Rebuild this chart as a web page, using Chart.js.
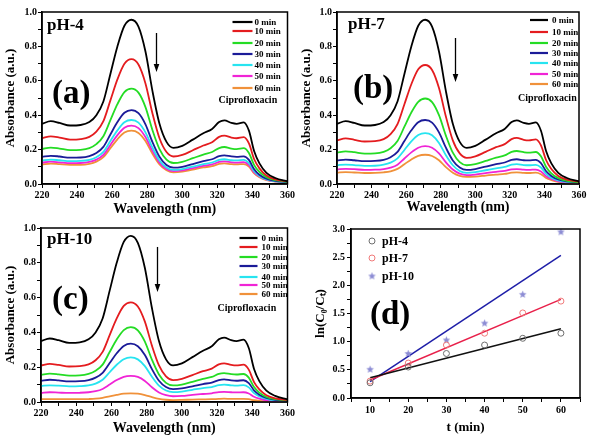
<!DOCTYPE html>
<html><head><meta charset="utf-8">
<script src="https://cdn.jsdelivr.net/npm/chart.js@4.4.1/dist/chart.umd.min.js"></script>
<style>
html,body{margin:0;padding:0;background:#fff;width:591px;height:439px;overflow:hidden;position:relative}
canvas{position:absolute}
</style></head><body>
<canvas id="ca" style="left:0px;top:0px" width="296" height="218"></canvas>
<canvas id="cb" style="left:296px;top:0px" width="295" height="218"></canvas>
<canvas id="cc" style="left:0px;top:218px" width="296" height="221"></canvas>
<canvas id="cd" style="left:296px;top:218px" width="295" height="221"></canvas>
<script>
// ---------- DATA ----------
const WAVELENGTHS = [220,225,230,236,242,247,251,255,259,263,267,271,275,279,283,287,291,295,300,306,312,317,321,324,328,331,335,338,341,344,348,353,360];
const TIME_LABELS = ['0 min','10 min','20 min','30 min','40 min','50 min','60 min'];

const SPECTRUM_0MIN = [0.350,0.365,0.355,0.340,0.343,0.360,0.400,0.480,0.640,0.800,0.920,0.955,0.915,0.770,0.540,0.350,0.245,0.210,0.222,0.258,0.295,0.320,0.360,0.370,0.355,0.350,0.358,0.310,0.190,0.120,0.065,0.035,0.015];

const PH4_10MIN = [0.266,0.277,0.270,0.258,0.261,0.274,0.304,0.365,0.486,0.608,0.699,0.726,0.695,0.585,0.410,0.266,0.186,0.160,0.169,0.196,0.224,0.243,0.274,0.281,0.270,0.266,0.272,0.236,0.144,0.091,0.049,0.027,0.014];
const PH4_20MIN = [0.203,0.212,0.206,0.197,0.199,0.209,0.232,0.278,0.371,0.464,0.534,0.554,0.531,0.447,0.313,0.203,0.142,0.122,0.129,0.150,0.171,0.186,0.209,0.215,0.206,0.203,0.208,0.180,0.110,0.070,0.040,0.022,0.013];
const PH4_30MIN = [0.158,0.164,0.160,0.153,0.154,0.162,0.180,0.216,0.288,0.360,0.414,0.430,0.412,0.347,0.243,0.158,0.110,0.095,0.100,0.116,0.133,0.144,0.162,0.167,0.160,0.158,0.161,0.140,0.086,0.054,0.031,0.018,0.012];
const PH4_40MIN = [0.137,0.142,0.138,0.133,0.134,0.140,0.156,0.187,0.250,0.312,0.359,0.372,0.357,0.300,0.211,0.137,0.096,0.082,0.087,0.101,0.115,0.125,0.140,0.144,0.138,0.137,0.140,0.121,0.074,0.047,0.027,0.016,0.011];
const PH4_50MIN = [0.124,0.130,0.126,0.121,0.122,0.128,0.142,0.170,0.227,0.284,0.327,0.339,0.325,0.273,0.192,0.124,0.087,0.075,0.079,0.092,0.105,0.114,0.128,0.131,0.126,0.124,0.127,0.110,0.067,0.043,0.025,0.015,0.010];
const PH4_60MIN = [0.114,0.119,0.115,0.111,0.111,0.117,0.130,0.156,0.208,0.260,0.299,0.310,0.297,0.250,0.176,0.114,0.080,0.068,0.072,0.084,0.096,0.104,0.117,0.120,0.115,0.114,0.116,0.101,0.062,0.040,0.023,0.014,0.010];

const PH7_10MIN = [0.254,0.265,0.257,0.247,0.249,0.261,0.290,0.348,0.464,0.580,0.667,0.692,0.663,0.558,0.392,0.254,0.178,0.152,0.161,0.187,0.214,0.232,0.261,0.268,0.257,0.254,0.260,0.225,0.138,0.087,0.047,0.025,0.013];
const PH7_20MIN = [0.182,0.190,0.185,0.177,0.178,0.187,0.208,0.250,0.333,0.416,0.478,0.497,0.476,0.400,0.281,0.182,0.127,0.109,0.115,0.134,0.153,0.166,0.187,0.192,0.185,0.182,0.186,0.161,0.099,0.062,0.034,0.018,0.011];
const PH7_30MIN = [0.137,0.142,0.138,0.133,0.134,0.140,0.156,0.187,0.250,0.312,0.359,0.372,0.357,0.300,0.211,0.137,0.096,0.082,0.087,0.101,0.115,0.125,0.140,0.144,0.138,0.137,0.140,0.121,0.074,0.047,0.026,0.015,0.010];
const PH7_40MIN = [0.109,0.113,0.110,0.105,0.106,0.112,0.124,0.149,0.198,0.248,0.285,0.296,0.284,0.239,0.167,0.109,0.076,0.065,0.069,0.080,0.091,0.099,0.112,0.115,0.110,0.109,0.111,0.096,0.059,0.037,0.021,0.012,0.009];
const PH7_50MIN = [0.085,0.088,0.086,0.082,0.083,0.087,0.095,0.112,0.148,0.184,0.211,0.220,0.211,0.178,0.126,0.084,0.060,0.052,0.055,0.063,0.071,0.076,0.085,0.087,0.083,0.082,0.084,0.073,0.045,0.029,0.016,0.010,0.008];
const PH7_60MIN = [0.066,0.069,0.067,0.064,0.065,0.068,0.074,0.088,0.115,0.143,0.164,0.170,0.163,0.138,0.098,0.066,0.047,0.041,0.043,0.049,0.055,0.059,0.066,0.068,0.065,0.064,0.066,0.057,0.035,0.023,0.013,0.008,0.007];

const PH10_10MIN = [0.210,0.219,0.213,0.204,0.206,0.216,0.240,0.288,0.384,0.480,0.552,0.573,0.549,0.462,0.324,0.210,0.147,0.126,0.133,0.155,0.177,0.192,0.216,0.222,0.213,0.210,0.215,0.186,0.114,0.072,0.039,0.021,0.012];
const PH10_20MIN = [0.156,0.163,0.159,0.152,0.153,0.161,0.179,0.215,0.287,0.359,0.413,0.430,0.412,0.347,0.243,0.158,0.110,0.095,0.100,0.116,0.133,0.144,0.162,0.166,0.160,0.158,0.161,0.140,0.086,0.054,0.029,0.016,0.010];
const PH10_30MIN = [0.122,0.128,0.124,0.119,0.120,0.126,0.140,0.168,0.224,0.280,0.322,0.335,0.320,0.270,0.189,0.122,0.086,0.074,0.078,0.090,0.103,0.112,0.126,0.130,0.124,0.122,0.125,0.109,0.067,0.042,0.023,0.012,0.008];
const PH10_40MIN = [0.092,0.096,0.094,0.090,0.091,0.095,0.106,0.128,0.171,0.214,0.246,0.256,0.245,0.206,0.145,0.094,0.066,0.057,0.060,0.070,0.080,0.086,0.097,0.100,0.096,0.094,0.097,0.084,0.051,0.032,0.018,0.009,0.006];
const PH10_50MIN = [0.053,0.056,0.054,0.052,0.053,0.056,0.062,0.075,0.100,0.126,0.145,0.150,0.144,0.121,0.085,0.055,0.039,0.033,0.035,0.041,0.046,0.050,0.057,0.058,0.056,0.055,0.056,0.049,0.030,0.019,0.010,0.005,0.003];
const PH10_60MIN = [0.016,0.017,0.017,0.016,0.016,0.017,0.019,0.024,0.033,0.041,0.048,0.050,0.048,0.040,0.028,0.018,0.013,0.011,0.012,0.014,0.015,0.016,0.018,0.019,0.018,0.018,0.018,0.016,0.010,0.006,0.003,0.002,0.001];

const T_MIN = [10,20,30,40,50,60];
const LN_PH4 = [0.27,0.55,0.79,0.94,1.06,1.15];
const LN_PH7 = [0.30,0.62,0.94,1.15,1.51,1.72];
const LN_PH10 = [0.51,0.79,1.03,1.33,1.84,2.95];
const FIT_T = [10,60];
const FIT_PH4 = [0.36,1.23];
const FIT_PH7 = [0.32,1.75];
const FIT_PH10 = [0.29,2.53];

const SPECTRA_X_TICKS = [220,240,260,280,300,320,340,360];
const SPECTRA_Y_TICKS = [0.0,0.2,0.4,0.6,0.8,1.0];
const KINETIC_X_TICKS = [10,20,30,40,50,60];
const KINETIC_Y_TICKS = [0.0,0.5,1.0,1.5,2.0,2.5,3.0];

// ---------- STYLE ----------
const SERIF = "'Liberation Serif','Times New Roman',serif";
const SERIES_COLORS = ['#000000','#e41c1f','#24dc24','#1b1b98','#27e4f0','#f024d6','#f0913a'];
Chart.defaults.devicePixelRatio = 1;

function pairs(xs, ys){ return xs.map((x,i)=>({x:x, y:ys[i]})); }
function near(v, list){ return list.some(t => Math.abs(t - v) < 1e-6); }

const decor = {
  id: 'decor',
  afterDatasetsDraw(chart, args, o){
    const ctx = chart.ctx, a = chart.chartArea;
    ctx.save();
    ctx.strokeStyle = '#000'; ctx.lineWidth = 1.5;
    ctx.strokeRect(a.left, a.top, a.right - a.left, a.bottom - a.top);
    ctx.fillStyle = '#000';
    ctx.textBaseline = 'middle'; ctx.textAlign = 'left';
    if (o.ph){
      ctx.font = 'bold 17px ' + SERIF;
      ctx.fillText(o.ph.text, a.left + o.ph.dx, a.top + o.ph.dy);
    }
    if (o.letter){
      ctx.font = 'bold 33px ' + SERIF;
      ctx.fillText(o.letter.text, a.left + o.letter.dx, a.top + o.letter.dy);
    }
    if (o.arrow){
      const xs = chart.scales.x, ys = chart.scales.y;
      const x = Math.round(xs.getPixelForValue(o.arrow.x)) + 0.5;
      const y1 = ys.getPixelForValue(o.arrow.y1), y2 = ys.getPixelForValue(o.arrow.y2);
      ctx.lineWidth = 1.3;
      ctx.beginPath(); ctx.moveTo(x, y1); ctx.lineTo(x, y2 - 6); ctx.stroke();
      ctx.beginPath(); ctx.moveTo(x - 2.8, y2 - 8); ctx.lineTo(x + 2.8, y2 - 8); ctx.lineTo(x, y2); ctx.closePath(); ctx.fill();
    }
    if (o.legend){
      const L = o.legend;
      ctx.font = 'bold 9px ' + SERIF;
      chart.data.datasets.forEach((ds, i) => {
        const y = a.top + L.rows[i];
        ctx.strokeStyle = ds.borderColor; ctx.lineWidth = 2.2;
        ctx.beginPath(); ctx.moveTo(a.right - L.x1, y); ctx.lineTo(a.right - L.x2, y); ctx.stroke();
        ctx.fillStyle = '#000';
        ctx.fillText(ds.label, a.right - L.tx, y + 0.5);
      });
      ctx.font = 'bold 10px ' + SERIF;
      ctx.fillText('Ciprofloxacin', a.right - L.cx, a.top + L.cy);
    }
    if (o.kLegend){
      const L = o.kLegend;
      ctx.font = 'bold 12px ' + SERIF;
      chart.data.datasets.filter(d => d.showInLegend).forEach((ds, i) => {
        const y = a.top + L.rows[i];
        const x = a.left + L.mx;
        if (ds.pointStyle === 'circle'){
          ctx.strokeStyle = ds.borderColor; ctx.lineWidth = 1;
          ctx.beginPath(); ctx.arc(x, y, 3, 0, Math.PI*2); ctx.stroke();
        } else {
          ctx.drawImage(ds.pointStyle, x - ds.pointStyle.width/2, y - ds.pointStyle.height/2);
        }
        ctx.fillStyle = '#000';
        ctx.fillText(ds.label, a.left + L.tx, y + 0.5);
      });
    }
    ctx.restore();
  }
};

function spectraChart(id, series, cfg){
  const datasets = series.map((arr, i) => ({
    label: TIME_LABELS[i],
    data: pairs(WAVELENGTHS, arr),
    borderColor: SERIES_COLORS[i],
    borderWidth: 1.8,
    pointRadius: 0,
    cubicInterpolationMode: 'monotone',
    fill: false,
    order: i === 0 ? 0 : 1
  }));
  return new Chart(document.getElementById(id), {
    type: 'line',
    data: { datasets },
    options: {
      responsive: false, animation: false,
      layout: { padding: { top: cfg.padTop, right: cfg.padRight, left: 0, bottom: 0 } },
      plugins: {
        legend: { display: false }, tooltip: { enabled: false },
        decor: cfg.decor
      },
      scales: {
        x: {
          type: 'linear', min: 220, max: 360,
          ticks: { stepSize: 10, autoSkip: false, maxRotation: 0, padding: 1, color: '#000',
                   font: { family: SERIF, size: 10, weight: 'bold' },
                   callback: v => near(v, SPECTRA_X_TICKS) ? String(v) : '' },
          grid: { drawOnChartArea: false, tickLength: 4, color: '#000', lineWidth: 1 },
          border: { color: '#000', width: 1.5 },
          title: { display: true, text: 'Wavelength (nm)', color: '#000',
                   font: { family: SERIF, size: 14, weight: 'bold' }, padding: { top: 0, bottom: cfg.xTitlePad } },
          afterFit: s => { s.height = cfg.xH; }
        },
        y: {
          type: 'linear', min: 0, max: 1,
          ticks: { stepSize: 0.1, autoSkip: false, padding: 1, color: '#000',
                   font: { family: SERIF, size: 10, weight: 'bold' },
                   callback: v => near(v, SPECTRA_Y_TICKS) ? v.toFixed(1) : '' },
          grid: { drawOnChartArea: false, tickLength: 4, color: '#000', lineWidth: 1 },
          border: { color: '#000', width: 1.5 },
          title: { display: true, text: 'Absorbance (a.u.)', color: '#000',
                   font: { family: SERIF, size: 13, weight: 'bold' }, padding: { top: cfg.yTitlePad, bottom: 0 } },
          afterFit: s => { s.width = cfg.yW; }
        }
      }
    },
    plugins: [decor]
  });
}

spectraChart('ca', [SPECTRUM_0MIN, PH4_10MIN, PH4_20MIN, PH4_30MIN, PH4_40MIN, PH4_50MIN, PH4_60MIN], {
  padTop: 12, padRight: 5, xH: 34, yW: 42, xTitlePad: 0, yTitlePad: 3,
  decor: {
    ph: { text: 'pH-4', dx: 5, dy: 14 },
    letter: { text: '(a)', dx: 10, dy: 82 },
    arrow: { x: 285.2, y1: 0.878, y2: 0.651 },
    legend: { rows: [10,19,31,42,53,64,76], x1: 55, x2: 35, tx: 33, cx: 69, cy: 88 }
  }
});

spectraChart('cb', [SPECTRUM_0MIN, PH7_10MIN, PH7_20MIN, PH7_30MIN, PH7_40MIN, PH7_50MIN, PH7_60MIN], {
  padTop: 12, padRight: 12, xH: 34, yW: 41, xTitlePad: 2, yTitlePad: 3,
  decor: {
    ph: { text: 'pH-7', dx: 11, dy: 13 },
    letter: { text: '(b)', dx: 16, dy: 77 },
    arrow: { x: 288.3, y1: 0.849, y2: 0.593 },
    legend: { rows: [8,20,31,41,51,62,72], x1: 49, x2: 31, tx: 27, cx: 61, cy: 86 }
  }
});

spectraChart('cc', [SPECTRUM_0MIN, PH10_10MIN, PH10_20MIN, PH10_30MIN, PH10_40MIN, PH10_50MIN, PH10_60MIN], {
  padTop: 10, padRight: 3, xH: 37, yW: 41, xTitlePad: 2, yTitlePad: 3,
  decor: {
    ph: { text: 'pH-10', dx: 6, dy: 12 },
    letter: { text: '(c)', dx: 11, dy: 72 },
    arrow: { x: 286.1, y1: 0.891, y2: 0.632 },
    legend: { rows: [10,19,29,38,49,57,66], x1: 48, x2: 30, tx: 26, cx: 70, cy: 80 }
  }
});

// star marker image
const star = document.createElement('canvas');
star.width = 9; star.height = 9;
(function(){
  const c = star.getContext('2d');
  c.fillStyle = '#8c8cd4';
  c.beginPath();
  for (let k = 0; k < 10; k++){
    const r = k % 2 === 0 ? 4 : 1.8;
    const ang = -Math.PI/2 + k * Math.PI/5;
    const px = 4.5 + r * Math.cos(ang), py = 4.8 + r * Math.sin(ang);
    if (k === 0) c.moveTo(px, py); else c.lineTo(px, py);
  }
  c.closePath(); c.fill();
})();

new Chart(document.getElementById('cd'), {
  type: 'scatter',
  data: {
    datasets: [
      { label: 'pH-4', data: pairs(T_MIN, LN_PH4), showInLegend: true, pointStyle: 'circle', pointRadius: 3,
        borderColor: '#6e6e6e', backgroundColor: 'rgba(0,0,0,0)', borderWidth: 1, showLine: false },
      { label: 'pH-7', data: pairs(T_MIN, LN_PH7), showInLegend: true, pointStyle: 'circle', pointRadius: 3,
        borderColor: '#f07a7a', backgroundColor: 'rgba(0,0,0,0)', borderWidth: 1, showLine: false },
      { label: 'pH-10', data: pairs(T_MIN, LN_PH10), showInLegend: true, pointStyle: star, pointRadius: 4,
        borderColor: '#8c8cd4', backgroundColor: '#8c8cd4', showLine: false },
      { label: 'fit pH-4', data: pairs(FIT_T, FIT_PH4), showLine: true, pointRadius: 0, borderColor: '#111111', borderWidth: 1.5 },
      { label: 'fit pH-7', data: pairs(FIT_T, FIT_PH7), showLine: true, pointRadius: 0, borderColor: '#e8204a', borderWidth: 1.5 },
      { label: 'fit pH-10', data: pairs(FIT_T, FIT_PH10), showLine: true, pointRadius: 0, borderColor: '#1e1ea8', borderWidth: 1.5 }
    ]
  },
  options: {
    responsive: false, animation: false,
    layout: { padding: { top: 11, right: 11, left: 0, bottom: 0 } },
    plugins: {
      legend: { display: false }, tooltip: { enabled: false },
      decor: {
        letter: { text: '(d)', dx: 19, dy: 86 },
        kLegend: { rows: [12, 29, 47], mx: 21, tx: 31 }
      }
    },
    scales: {
      x: {
        type: 'linear', min: 5, max: 65,
        ticks: { stepSize: 5, autoSkip: false, maxRotation: 0, padding: 2, color: '#000',
                 font: { family: SERIF, size: 10, weight: 'bold' },
                 callback: v => near(v, KINETIC_X_TICKS) ? String(v) : '' },
        grid: { drawOnChartArea: false, tickLength: 4, color: '#000', lineWidth: 1 },
        border: { color: '#000', width: 1.5 },
        title: { display: true, text: 't (min)', color: '#000',
                 font: { family: SERIF, size: 13, weight: 'bold' }, padding: { top: 0, bottom: 4 } },
        afterFit: s => { s.height = 41; }
      },
      y: {
        type: 'linear', min: 0, max: 3,
        ticks: { stepSize: 0.25, autoSkip: false, padding: 2, color: '#000',
                 font: { family: SERIF, size: 10, weight: 'bold' },
                 callback: v => near(v, KINETIC_Y_TICKS) ? v.toFixed(1) : '' },
        grid: { drawOnChartArea: false, tickLength: 4, color: '#000', lineWidth: 1 },
        border: { color: '#000', width: 1.5 },
        title: { display: true, text: 'ln(C\u2080/C\u209C)', color: '#000',
                 font: { family: SERIF, size: 13, weight: 'bold' }, padding: { top: 17, bottom: 0 } },
        afterFit: s => { s.width = 55; }
      }
    }
  },
  plugins: [decor]
});
</script>
</body></html>
